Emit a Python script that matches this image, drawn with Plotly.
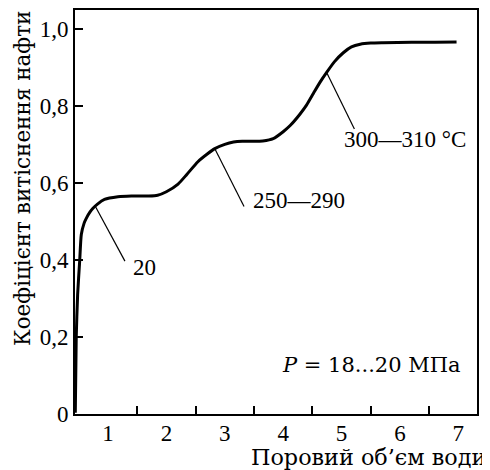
import plotly.graph_objects as go

# Крива витіснення нафти (читається з рисунка)
obem_vody = [0.44, 0.456, 0.48, 0.515, 0.543, 0.59, 0.628, 0.69, 0.743, 0.82, 0.94, 1.17, 1.4, 1.7, 1.85, 2.0, 2.2, 2.35,
             2.54, 2.7, 2.83, 3.0, 3.15, 3.3, 3.49, 3.65, 3.83, 4.0, 4.12, 4.29, 4.4, 4.52, 4.63, 4.745, 4.88, 5.03,
             5.17, 5.32, 5.5, 5.71, 6.2, 6.6, 6.97]
koef = [0.003, 0.198, 0.31, 0.397, 0.466, 0.495, 0.508, 0.524, 0.534, 0.545, 0.557, 0.564, 0.566, 0.566, 0.568,
        0.577, 0.597, 0.622, 0.655, 0.675, 0.689, 0.70, 0.706, 0.708, 0.708, 0.709, 0.715, 0.733, 0.749, 0.779,
        0.802, 0.833, 0.861, 0.887, 0.915, 0.938, 0.953, 0.96, 0.963, 0.964, 0.965, 0.965, 0.966]

# Виноски: [точка на кривій, кінець лінії], текст
vynosky_x = [[0.78, 1.29], [2.83, 3.33], [4.745, 5.22]]
vynosky_y = [[0.54, 0.397], [0.689, 0.539], [0.887, 0.74]]
vynosky_text = ['20', '250—290', '300—310 °C']
text_x = [1.4, 3.45, 5.0]
text_y = [0.381, 0.554, 0.714]

y_ticks = [0, 0.2, 0.4, 0.6, 0.8, 1.0]
y_labels = ['0', '0,2', '0,4', '0,6', '0,8', '1,0']
x_ticks = [1, 2, 3, 4, 5, 6, 7]
x_marks = [1.5, 2.5, 3.5, 4.5, 5.5, 6.5]

SERIF = 'Liberation Serif'
WIDE = 'DejaVu Serif'

fig = go.Figure()
fig.add_trace(go.Scatter(x=obem_vody, y=koef, mode='lines', line=dict(color='black', width=3, shape='spline', smoothing=0.6),
                         showlegend=False, hoverinfo='skip'))
for xs, ys, t, tx, ty in zip(vynosky_x, vynosky_y, vynosky_text, text_x, text_y):
    fig.add_trace(go.Scatter(x=xs, y=ys, mode='lines', line=dict(color='black', width=1.2), showlegend=False))
    fig.add_annotation(x=tx, y=ty, text=t, showarrow=False, xanchor='left', yanchor='middle',
                       font=dict(family=SERIF, size=23, color='black'))

fig.add_annotation(x=3.95, y=0.126, text='<i>P</i> = 18...20 МПа', showarrow=False, xanchor='left', yanchor='middle',
                   font=dict(family=WIDE, size=21, color='black'))

# підписи осей
fig.add_annotation(xref='paper', yref='paper', x=-0.132, y=0.584, text='Коефіцієнт витіснення нафти', textangle=-90,
                   showarrow=False, xanchor='center', yanchor='middle', font=dict(family=WIDE, size=21.5, color='black'))
fig.add_annotation(xref='paper', yref='paper', x=1.027, y=-0.106, text='Поровий об’єм води',
                   showarrow=False, xanchor='right', yanchor='middle', font=dict(family=WIDE, size=22.3, color='black'))

fig.update_xaxes(range=[0.435, 7.32], tickvals=x_ticks, ticks='', showgrid=False, zeroline=False,
                 showline=True, linecolor='black', linewidth=2, mirror=True, ticklabelstandoff=-3,
                 tickfont=dict(family=SERIF, size=23, color='black'),
                 minor=dict(tickvals=x_marks, ticks='inside', ticklen=8, tickwidth=1.5, tickcolor='black', showgrid=False))
fig.update_yaxes(range=[0, 1.049], tickvals=y_ticks, ticktext=y_labels, ticks='inside', ticklen=8, tickwidth=1.5,
                 tickcolor='black', showgrid=False, zeroline=False, showline=True, linecolor='black', linewidth=2,
                 mirror=True, tickfont=dict(family=SERIF, size=23, color='black'))
# сторінка має відступ 8 px, тому фігура трохи менша за вікно
fig.update_layout(width=482, height=462, margin=dict(l=67, r=13, t=0, b=56), plot_bgcolor='white',
                  paper_bgcolor='white')
fig.write_html('out.html')
